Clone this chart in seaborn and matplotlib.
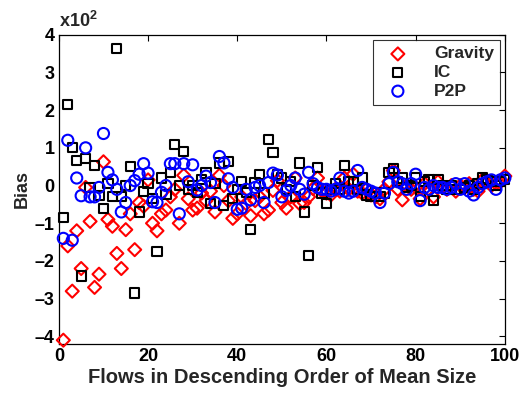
import numpy as np
import pandas as pd
import matplotlib
matplotlib.use("Agg")
import matplotlib.pyplot as plt
import seaborn as sns

# Bias per flow (in units of 10^2), flows ordered by descending mean size
flow_index = list(range(1, 101))

gravity = [
    -4.1, -1.6, -2.8, -1.2, -2.2, -0.05, -0.95, -2.7, -2.35, 0.63,
    -0.9, -1.08, -1.8, -2.2, -1.17, -0.75, -1.7, -0.45, -0.55, 0.15,
    -1.0, -1.2, -0.75, -0.65, -0.3, -0.1, -1.0, 0.27, -0.35, -0.65,
    -0.6, -0.2, -0.4, -0.15, -0.7, 0.27, 0.0, -0.4, -0.87, -0.75,
    -0.3, -0.48, -0.8, -0.4, -0.3, -0.75, -0.65, -0.13, 0.13, -0.45,
    -0.6, -0.3, 0.2, -0.48, -0.45, -0.3, -0.08, 0.2, -0.15, -0.2,
    -0.25, -0.1, -0.15, 0.2, -0.1, 0.3, -0.15, -0.2, -0.1, -0.25,
    -0.3, -0.35, -0.1, 0.1, 0.4, -0.1, -0.38, 0.0, -0.1, -0.05,
    -0.35, 0.05, -0.1, -0.3, 0.1, -0.05, -0.1, 0.0, -0.15, 0.0,
    -0.05, 0.05, -0.1, -0.15, 0.15, 0.1, 0.0, 0.05, 0.1, 0.25,
]

ic = [
    -0.85, 2.15, 1.0, 0.66, -2.4, 0.72, -0.05, 0.53, -0.27, -0.6,
    0.05, -0.3, 3.63, -0.3, 0.0, 0.5, -2.85, -0.7, -0.15, 0.05,
    -0.35, -1.75, 0.2, -0.23, 0.35, 1.08, 0.0, 0.9, -0.1, 0.0,
    -0.18, 0.15, 0.33, -0.48, 0.05, 0.6, -0.52, 0.63, -0.35, -0.1,
    0.1, -0.18, -1.17, 0.07, 0.3, -0.2, 1.22, 0.88, 0.3, 0.2,
    -0.1, 0.1, -0.3, 0.6, -0.7, -1.85, 0.0, 0.48, -0.2, -0.48,
    -0.1, 0.05, -0.1, 0.53, 0.1, 0.1, -0.1, 0.2, -0.25, -0.3,
    -0.2, -0.3, -0.2, 0.35, 0.45, 0.1, 0.2, -0.05, 0.0, 0.2,
    -0.3, 0.1, 0.15, -0.4, 0.15, 0.0, -0.1, 0.0, -0.1, -0.1,
    -0.05, 0.0, -0.1, 0.05, 0.2, 0.15, 0.1, 0.0, 0.1, 0.15,
]

p2p = [
    -1.4, 1.2, -1.45, 0.2, -0.27, 1.0, -0.3, -0.3, -0.05, 1.38,
    0.35, 0.15, -0.1, -0.7, -0.45, 0.0, 0.13, 0.3, 0.58, 0.33,
    -0.43, -0.45, -0.18, 0.0, 0.58, 0.58, -0.75, 0.58, 0.1, 0.55,
    -0.12, 0.0, 0.25, 0.08, -0.45, 0.77, 0.6, 0.18, -0.05, -0.63,
    -0.6, -0.1, -0.38, -0.05, 0.0, -0.45, 0.08, 0.33, 0.28, -0.3,
    -0.13, 0.0, 0.2, -0.1, -0.23, 0.35, 0.05, -0.05, -0.1, -0.1,
    -0.15, -0.1, 0.2, -0.15, -0.2, -0.15, 0.4, -0.05, -0.1, -0.15,
    -0.2, -0.45, -0.2, 0.05, 0.35, 0.1, 0.05, -0.1, 0.05, 0.3,
    -0.4, -0.05, -0.1, 0.0, -0.05, -0.05, -0.1, -0.05, 0.05, -0.1,
    0.05, -0.15, -0.25, -0.05, 0.05, 0.1, 0.15, -0.1, 0.15, 0.2,
]

series_names = ["Gravity", "IC", "P2P"]
series_colors = {"Gravity": "#ff0000", "IC": "#000000", "P2P": "#0000ff"}
series_markers = {"Gravity": "D", "IC": "s", "P2P": "o"}
series_sizes = {"Gravity": 44, "IC": 44, "P2P": 64}

df = pd.concat(
    [
        pd.DataFrame({"flow": flow_index, "bias": vals, "method": name})
        for name, vals in zip(series_names, [gravity, ic, p2p])
    ],
    ignore_index=True,
)

sns.set_theme(style="white")
plt.rcParams["font.family"] = ["Liberation Sans", "DejaVu Sans"]
plt.rcParams["font.weight"] = "bold"
plt.rcParams["mathtext.fontset"] = "custom"
plt.rcParams["mathtext.bf"] = "Liberation Sans:bold"
plt.rcParams["mathtext.rm"] = "Liberation Sans:bold"

fig = plt.figure(figsize=(5.21, 3.94), dpi=100)
ax = fig.add_axes([0.113, 0.127, 0.856, 0.785])

for name in series_names:
    sub = df[df["method"] == name]
    sns.scatterplot(
        data=sub, x="flow", y="bias", ax=ax,
        marker=series_markers[name], s=series_sizes[name],
        facecolor="none", edgecolor=series_colors[name],
        linewidth=1.5, label=name, zorder=3, clip_on=False,
    )

ax.set_xlim(0, 100)
ax.set_ylim(-4.2, 4)
ax.set_xticks(range(0, 101, 20))
ax.set_yticks(range(-4, 5, 1))
ax.set_yticklabels([str(v) if v >= 0 else "\u2013" + str(-v) for v in range(-4, 5)])

for side in ax.spines.values():
    side.set_color("black")
    side.set_linewidth(0.9)
ax.tick_params(direction="in", length=4, width=0.8, top=True, right=True,
               labelsize=13, colors="black", pad=3)
for lbl in ax.get_xticklabels() + ax.get_yticklabels():
    lbl.set_fontweight("bold")

ax.set_xlabel("Flows in Descending Order of Mean Size", fontsize=14.5,
              fontweight="bold", labelpad=2)
ax.set_ylabel("Bias", fontsize=13, fontweight="bold", labelpad=3)

ax.text(0.0, 1.012, r"x10$^{\mathbf{2}}$", transform=ax.transAxes,
        fontsize=13, fontweight="bold", ha="left", va="bottom")

leg = ax.legend(loc="upper right", bbox_to_anchor=(0.99, 0.982),
                frameon=True, fancybox=False, borderaxespad=0.0,
                handletextpad=1.0, borderpad=0.35, handlelength=2.2,
                labelspacing=0.2, prop={"weight": "bold", "size": 12.5})
leg.get_frame().set_edgecolor("black")
leg.get_frame().set_linewidth(0.8)

fig.savefig("out.png", dpi=100, facecolor="white")
